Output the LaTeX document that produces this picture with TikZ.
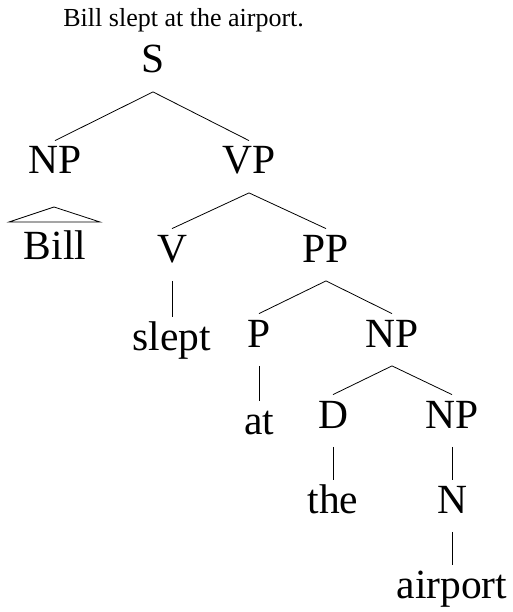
\documentclass[tikz,border=0pt]{standalone}
\usepackage{fontspec}
\setmainfont{Liberation Serif}
\begin{document}
\begin{tikzpicture}[x=1pt,y=1pt,line width=0.8pt,
  cat/.style={anchor=base,inner sep=0pt,text height=33pt,text depth=18.5pt,
    font=\fontsize{41.5}{48}\selectfont}]
\useasboundingbox (0,0) rectangle (512,-612);
\node[anchor=base west,inner sep=0pt,font=\fontsize{26}{30}\selectfont] (title) at (63,-27) {Bill slept at the airport.};
% categories and words
\node[cat] (S) at (153,-73) {S};
\node[cat] (np1) at (55,-174) {NP};
\node[cat] (vp) at (249,-174) {VP};
\node[cat] (bill) at (55,-259) {Bill};
\node[cat] (v) at (172,-262) {V};
\node[cat] (pp) at (326,-262) {PP};
\node[cat] (slept) at (172,-350) {slept};
\node[cat] (p) at (259,-347) {P};
\node[cat] (np2) at (392,-347) {NP};
\node[cat] (at) at (259,-434) {at};
\node[cat] (d) at (333,-428) {D};
\node[cat] (np3) at (452,-428) {NP};
\node[cat] (the) at (333,-513) {the};
\node[cat] (n) at (452,-513) {N};
\node[cat] (airport) at (452,-598) {airport};
% branches
\draw (S.south) -- (np1.north);
\draw (S.south) -- (vp.north);
\draw (vp.south) -- (v.north);
\draw (vp.south) -- (pp.north);
\draw (v.south) -- (slept.north);
\draw (pp.south) -- (p.north);
\draw (pp.south) -- (np2.north);
\draw (p.south) -- (at.north);
\draw (np2.south) -- (d.north);
\draw (np2.south) -- (np3.north);
\draw (d.south) -- (the.north);
\draw (np3.south) -- (n.north);
\draw (n.south) -- (airport.north);
% triangle over Bill
\draw ([shift={(-46,37)}]bill.base) -- ([shift={(-1,52)}]bill.base) -- ([shift={(45,37)}]bill.base) -- cycle;
\end{tikzpicture}
\end{document}
